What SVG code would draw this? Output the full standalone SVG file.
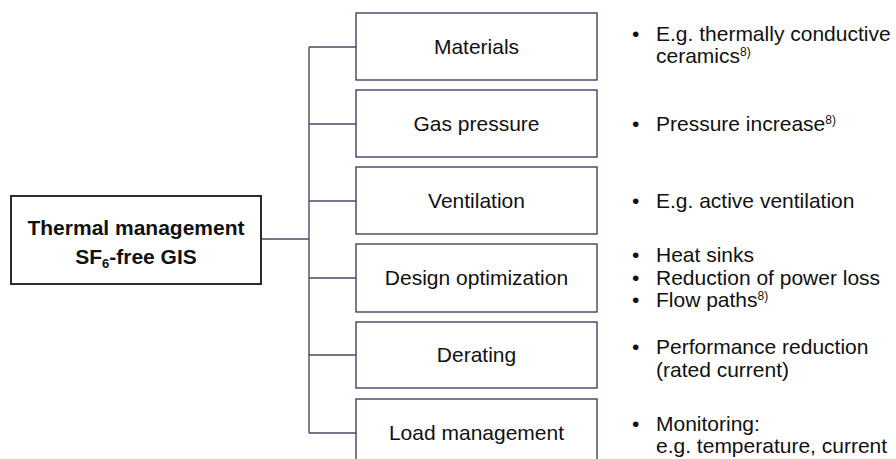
<svg xmlns="http://www.w3.org/2000/svg" width="896" height="459" viewBox="0 0 896 459">
<style>
.bg{fill:#ffffff}
.box{fill:#ffffff;stroke:#404060;stroke-width:1.4}
.main{fill:#ffffff;stroke:#2b2b2b;stroke-width:2}
.conn{fill:none;stroke:#4a4a6a;stroke-width:1.4}
.t{font-family:"Liberation Sans",Arial,sans-serif;font-size:21px;fill:#111111}
.c{text-anchor:middle}
.b{font-weight:bold;font-size:21px}
.sup{font-size:12px}
</style>
<rect class="bg" x="0" y="0" width="896" height="459"/>
<g id="connectors">
<path class="conn" d="M261,239 H309 M309,47 V433 M309,47 H356 M309,124 H356 M309,201 H356 M309,278 H356 M309,355 H356 M309,433 H356"/>
</g>
<g id="root">
<rect class="main" x="11" y="196" width="250" height="88"/>
<text class="t c b" x="136" y="235">Thermal management</text>
<text class="t c b" x="136" y="264">SF<tspan dy="4" font-size="13px">6</tspan><tspan dy="-4">-free GIS</tspan></text>
</g>
<g id="materials">
<rect class="box" x="356" y="13" width="241" height="67"/>
<text class="t c" x="476.5" y="54">Materials</text>
<text class="t" x="632" y="41">•</text>
<text class="t" x="656" y="41">E.g. thermally conductive</text>
<text class="t" x="656" y="63">ceramics<tspan class="sup" dy="-7">8)</tspan></text>
</g>
<g id="gas">
<rect class="box" x="356" y="90" width="241" height="67"/>
<text class="t c" x="476.5" y="131">Gas pressure</text>
<text class="t" x="632" y="131">•</text>
<text class="t" x="656" y="131">Pressure increase<tspan class="sup" dy="-7">8)</tspan></text>
</g>
<g id="ventilation">
<rect class="box" x="356" y="167" width="241" height="67"/>
<text class="t c" x="476.5" y="208">Ventilation</text>
<text class="t" x="632" y="208">•</text>
<text class="t" x="656" y="208">E.g. active ventilation</text>
</g>
<g id="design">
<rect class="box" x="356" y="244" width="241" height="68"/>
<text class="t c" x="476.5" y="285">Design optimization</text>
<text class="t" x="632" y="262">•</text>
<text class="t" x="656" y="262">Heat sinks</text>
<text class="t" x="632" y="285">•</text>
<text class="t" x="656" y="285">Reduction of power loss</text>
<text class="t" x="632" y="307">•</text>
<text class="t" x="656" y="307">Flow paths<tspan class="sup" dy="-7">8)</tspan></text>
</g>
<g id="derating">
<rect class="box" x="356" y="322" width="241" height="66"/>
<text class="t c" x="476.5" y="362">Derating</text>
<text class="t" x="632" y="354">•</text>
<text class="t" x="656" y="354">Performance reduction</text>
<text class="t" x="656" y="377">(rated current)</text>
</g>
<g id="load">
<rect class="box" x="356" y="399" width="241" height="70"/>
<text class="t c" x="476.5" y="440">Load management</text>
<text class="t" x="632" y="431">•</text>
<text class="t" x="656" y="431">Monitoring:</text>
<text class="t" x="656" y="453">e.g. temperature, current</text>
</g>
</svg>
